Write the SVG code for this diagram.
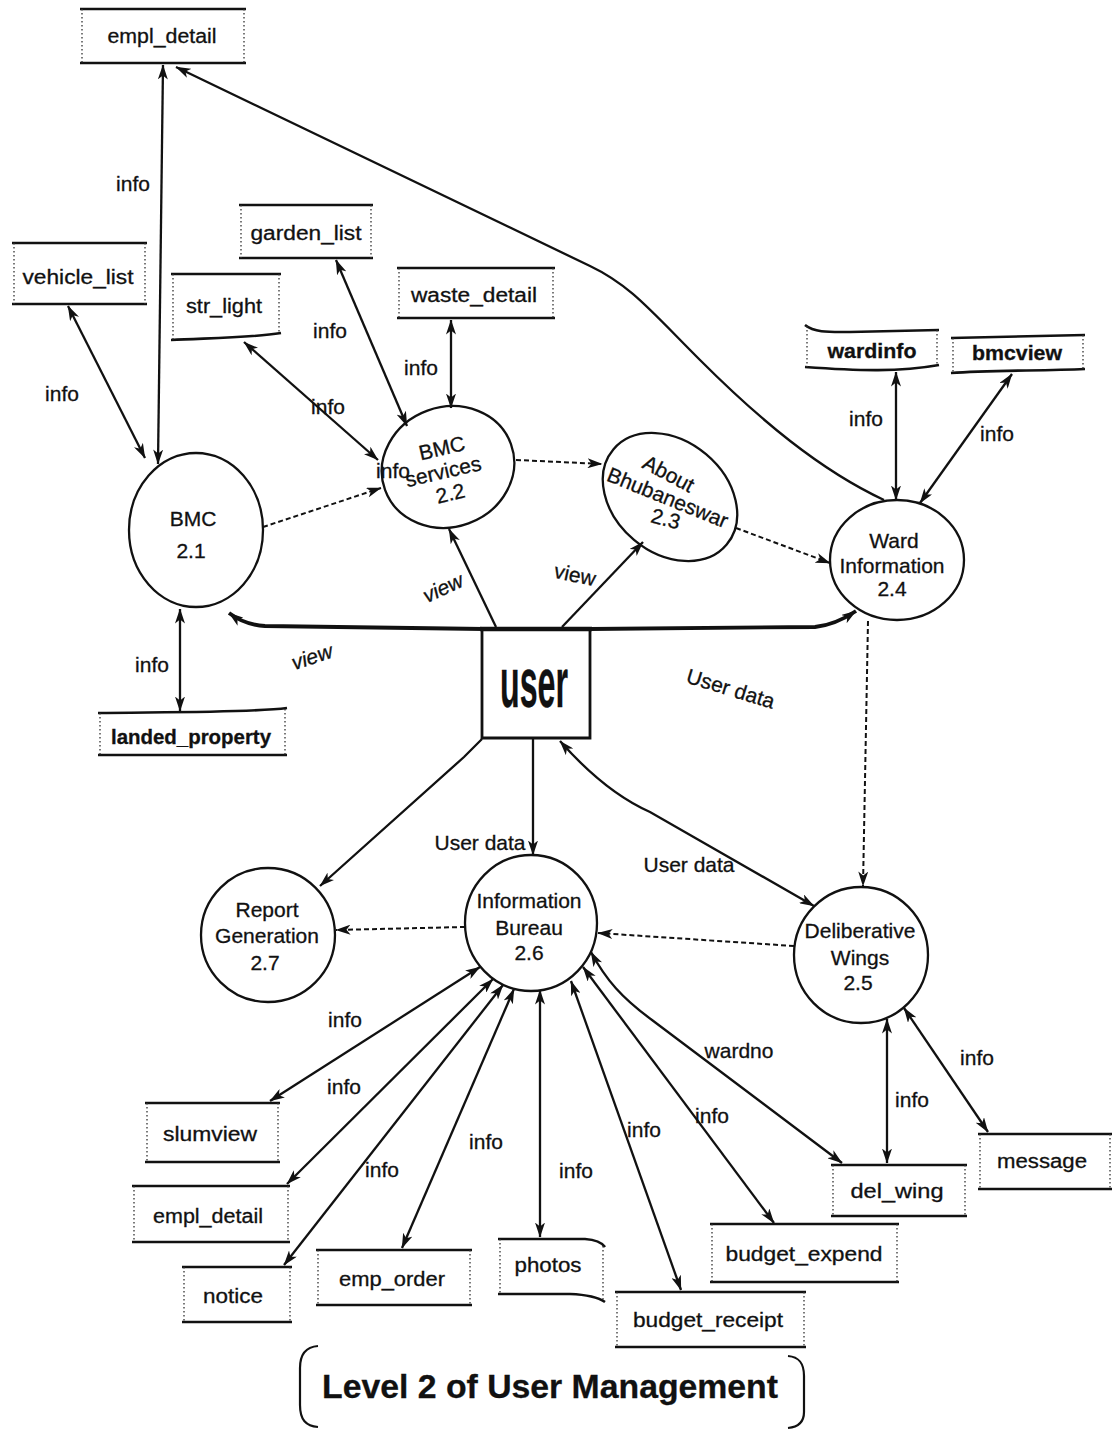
<svg xmlns="http://www.w3.org/2000/svg" width="1116" height="1431" viewBox="0 0 1116 1431">
<style>
.edge{stroke:#111;stroke-width:2.6;fill:none}
.side{stroke:#333;stroke-width:1.3;stroke-dasharray:1.5 2.5;fill:none}
.proc{fill:none;stroke:#111;stroke-width:2.3}
.flow{stroke:#111;stroke-width:2.3;fill:none}
.thick{stroke:#111;stroke-width:3.8;fill:none}
.dash{stroke:#111;stroke-width:2;stroke-dasharray:5 3;fill:none}
text{font-family:"Liberation Sans",Arial,sans-serif;fill:#111;stroke:#111;stroke-width:0.3}
.sl{font-size:20px;text-anchor:middle}
.pl{font-size:21px;text-anchor:middle}
.fl{font-size:21px;text-anchor:middle}
</style>
<defs>
<marker id="ah" viewBox="0 0 15 10" refX="14.5" refY="5" markerWidth="15" markerHeight="10" markerUnits="userSpaceOnUse" orient="auto-start-reverse">
<path d="M0,0 L15,5 L0,10 L4,5 Z" fill="#111"/>
</marker>
</defs>
<rect width="1116" height="1431" fill="#fff"/>

<g id="connectors">
<!-- top -->
<line class="flow" x1="163" y1="65" x2="158" y2="464" marker-start="url(#ah)" marker-end="url(#ah)"/>
<line class="flow" x1="68" y1="306" x2="145" y2="458" marker-start="url(#ah)" marker-end="url(#ah)"/>
<line class="flow" x1="244" y1="342" x2="378" y2="460" marker-start="url(#ah)" marker-end="url(#ah)"/>
<line class="flow" x1="336" y1="260" x2="407" y2="426" marker-start="url(#ah)" marker-end="url(#ah)"/>
<line class="flow" x1="451" y1="320" x2="451" y2="408" marker-start="url(#ah)" marker-end="url(#ah)"/>
<line class="flow" x1="180" y1="609" x2="180" y2="711" marker-start="url(#ah)" marker-end="url(#ah)"/>
<path class="dash" d="M263,527 L381,488" marker-end="url(#ah)"/>
<path class="dash" d="M516,460 L602,464" marker-end="url(#ah)"/>
<path class="dash" d="M736,528 L830,563" marker-end="url(#ah)"/>
<path class="flow" d="M884,500 C820,470 760,420 700,360 C650,310 630,285 590,266 L176,67" marker-end="url(#ah)"/>
<line class="flow" x1="896" y1="372" x2="896" y2="500" marker-start="url(#ah)" marker-end="url(#ah)"/>
<line class="flow" x1="1012" y1="374" x2="920" y2="503" marker-start="url(#ah)" marker-end="url(#ah)"/>
<!-- user -->
<path class="thick" d="M484,629 L265,626 Q245,625 229,613" marker-end="url(#ah)"/>
<path class="thick" d="M590,629 L815,627 Q835,625 856,611" marker-end="url(#ah)"/>
<line class="flow" x1="496" y1="627" x2="449" y2="529" marker-end="url(#ah)"/>
<line class="flow" x1="562" y1="627" x2="643" y2="542" marker-end="url(#ah)"/>
<path class="flow" d="M482,739 L464,757 L320,886" marker-end="url(#ah)"/>
<line class="flow" x1="533" y1="738" x2="533" y2="855" marker-end="url(#ah)"/>
<path class="flow" d="M560,741 Q605,792 650,812 L814,906" marker-start="url(#ah)" marker-end="url(#ah)"/>
<path class="dash" d="M868,621 L863,886" marker-end="url(#ah)"/>
<path class="dash" d="M465,927 L336,930" marker-end="url(#ah)"/>
<path class="dash" d="M794,946 L598,933" marker-end="url(#ah)"/>
<!-- bottom -->
<line class="flow" x1="480" y1="967" x2="270" y2="1101" marker-start="url(#ah)" marker-end="url(#ah)"/>
<line class="flow" x1="493" y1="979" x2="287" y2="1184" marker-start="url(#ah)" marker-end="url(#ah)"/>
<line class="flow" x1="503" y1="985" x2="284" y2="1265" marker-start="url(#ah)" marker-end="url(#ah)"/>
<line class="flow" x1="514" y1="989" x2="402" y2="1248" marker-start="url(#ah)" marker-end="url(#ah)"/>
<line class="flow" x1="540" y1="990" x2="540" y2="1237" marker-start="url(#ah)" marker-end="url(#ah)"/>
<line class="flow" x1="571" y1="981" x2="681" y2="1290" marker-start="url(#ah)" marker-end="url(#ah)"/>
<line class="flow" x1="583" y1="967" x2="774" y2="1223" marker-start="url(#ah)" marker-end="url(#ah)"/>
<path class="flow" d="M591,952 C606,980 622,998 652,1020 L842,1163" marker-start="url(#ah)" marker-end="url(#ah)"/>
<line class="flow" x1="887" y1="1019" x2="887" y2="1163" marker-start="url(#ah)" marker-end="url(#ah)"/>
<line class="flow" x1="904" y1="1008" x2="988" y2="1132" marker-start="url(#ah)" marker-end="url(#ah)"/>
</g>

<g id="labels">
<text class="fl" x="133" y="191">info</text>
<text class="fl" x="330" y="338">info</text>
<text class="fl" x="421" y="375">info</text>
<text class="fl" x="328" y="414">info</text>
<text class="fl" x="62" y="401">info</text>
<text class="fl" x="393" y="478">info</text>
<text class="fl" x="866" y="426">info</text>
<text class="fl" x="997" y="441">info</text>
<text class="fl" x="152" y="672" font-size="19">info</text>
<text class="fl" x="312" y="664" font-style="italic" transform="rotate(-18 312 657)">view</text>
<text class="fl" x="443" y="595" font-style="italic" transform="rotate(-25 443 588)">view</text>
<text class="fl" x="575" y="582" transform="rotate(12 575 575)">view</text>
<text class="fl" x="731" y="696" font-size="23" transform="rotate(17 731 688)">User data</text>
<text class="fl" x="480" y="850">User data</text>
<text class="fl" x="689" y="872">User data</text>
<text class="fl" x="345" y="1027">info</text>
<text class="fl" x="344" y="1094">info</text>
<text class="fl" x="382" y="1177">info</text>
<text class="fl" x="486" y="1149">info</text>
<text class="fl" x="576" y="1178">info</text>
<text class="fl" x="644" y="1137">info</text>
<text class="fl" x="712" y="1123">info</text>
<text class="fl" x="739" y="1058">wardno</text>
<text class="fl" x="912" y="1107">info</text>
<text class="fl" x="977" y="1065">info</text>
</g>

<!-- data stores -->
<g id="s-empl-detail-top"><path class="edge" d="M80,9 H246 M80,63 H246"/><path class="side" d="M82,9 V63 M244,9 V63"/><text class="sl" x="162" y="43" textLength="109" lengthAdjust="spacingAndGlyphs">empl_detail</text></g>
<g id="s-vehicle-list"><path class="edge" d="M12,243 H147 M12,304 H147"/><path class="side" d="M14,243 V304 M145,243 V304"/><text class="sl" x="78" y="284" textLength="111" lengthAdjust="spacingAndGlyphs">vehicle_list</text></g>
<g id="s-garden-list"><path class="edge" d="M239,205 H373 M239,258 H373"/><path class="side" d="M241,205 V258 M371,205 V258"/><text class="sl" x="306" y="240" textLength="111" lengthAdjust="spacingAndGlyphs">garden_list</text></g>
<g id="s-str-light"><path class="edge" d="M171,274 H281 M171,340 C210,338 250,338 281,333"/><path class="side" d="M173,274 V340 M279,274 V334"/><text class="sl" x="224" y="313" textLength="76" lengthAdjust="spacingAndGlyphs">str_light</text></g>
<g id="s-waste-detail"><path class="edge" d="M397,268 H555 M397,318 H555"/><path class="side" d="M399,268 V318 M553,268 V318"/><text class="sl" x="474" y="302" textLength="126" lengthAdjust="spacingAndGlyphs">waste_detail</text></g>
<g id="s-wardinfo"><path class="edge" d="M805,325 C815,333 830,332 850,332 L939,330 M805,367 C860,371 900,372 939,365"/><path class="side" d="M807,326 V367 M937,330 V366"/><text class="sl" x="872" y="358" font-size="17" font-weight="bold" textLength="89" lengthAdjust="spacingAndGlyphs">wardinfo</text></g>
<g id="s-bmcview"><path class="edge" d="M951,338 L1085,335 M951,373 C990,370 1040,371 1085,369"/><path class="side" d="M953,338 V373 M1083,335 V369"/><text class="sl" x="1017" y="360" font-size="17" font-weight="bold" textLength="90" lengthAdjust="spacingAndGlyphs">bmcview</text></g>
<g id="s-landed-property"><path class="edge" d="M98,713 C150,712 250,713 287,708 M98,755 H287"/><path class="side" d="M100,713 V755 M285,709 V755"/><text class="sl" x="191" y="744" font-weight="bold" textLength="160" lengthAdjust="spacingAndGlyphs">landed_property</text></g>
<g id="s-slumview"><path class="edge" d="M145,1103 H280 M145,1162 H280"/><path class="side" d="M147,1103 V1162 M278,1103 V1162"/><text class="sl" x="210" y="1141" textLength="94" lengthAdjust="spacingAndGlyphs">slumview</text></g>
<g id="s-empl-detail-bottom"><path class="edge" d="M132,1186 H290 M132,1242 H290"/><path class="side" d="M134,1186 V1242 M288,1186 V1242"/><text class="sl" x="208" y="1223" textLength="110" lengthAdjust="spacingAndGlyphs">empl_detail</text></g>
<g id="s-notice"><path class="edge" d="M182,1267 H292 M182,1322 H292"/><path class="side" d="M184,1267 V1322 M290,1267 V1322"/><text class="sl" x="233" y="1303" textLength="60" lengthAdjust="spacingAndGlyphs">notice</text></g>
<g id="s-emp-order"><path class="edge" d="M316,1250 H472 M316,1305 H472"/><path class="side" d="M318,1250 V1305 M470,1250 V1305"/><text class="sl" x="392" y="1286" textLength="106" lengthAdjust="spacingAndGlyphs">emp_order</text></g>
<g id="s-photos"><path class="edge" d="M498,1239 L585,1239 Q600,1240 605,1247 M498,1294 L570,1294 Q595,1295 605,1302"/><path class="side" d="M500,1239 V1294 M603,1246 V1301"/><text class="sl" x="548" y="1272" textLength="67" lengthAdjust="spacingAndGlyphs">photos</text></g>
<g id="s-budget-receipt"><path class="edge" d="M615,1292 H806 M615,1347 H806"/><path class="side" d="M617,1292 V1347 M804,1292 V1347"/><text class="sl" x="708" y="1327" textLength="150" lengthAdjust="spacingAndGlyphs">budget_receipt</text></g>
<g id="s-budget-expend"><path class="edge" d="M710,1224 H899 M710,1282 H899"/><path class="side" d="M712,1224 V1282 M897,1224 V1282"/><text class="sl" x="804" y="1261" textLength="157" lengthAdjust="spacingAndGlyphs">budget_expend</text></g>
<g id="s-del-wing"><path class="edge" d="M831,1165 H967 M831,1216 H967"/><path class="side" d="M833,1165 V1216 M965,1165 V1216"/><text class="sl" x="897" y="1198" textLength="93" lengthAdjust="spacingAndGlyphs">del_wing</text></g>
<g id="s-message"><path class="edge" d="M978,1134 H1112 M978,1189 H1112"/><path class="side" d="M980,1134 V1189 M1110,1134 V1189"/><text class="sl" x="1042" y="1168" textLength="90" lengthAdjust="spacingAndGlyphs">message</text></g>

<!-- processes -->
<g id="p-bmc"><ellipse class="proc" cx="196" cy="530" rx="67" ry="77"/><text class="pl" x="193" y="526">BMC</text><text class="pl" x="191" y="558">2.1</text></g>
<g id="p-bmc-services"><ellipse class="proc" cx="448" cy="467" rx="67" ry="60" transform="rotate(-20 448 467)"/><g transform="rotate(-13 446 470)"><text class="pl" x="447" y="455">BMC</text><text class="pl" x="443" y="478">services</text><text class="pl" x="445" y="501">2.2</text></g></g>
<g id="p-about"><ellipse class="proc" cx="670" cy="497" rx="74" ry="56" transform="rotate(40 670 497)"/><text class="pl" x="669" y="481" transform="rotate(28 669 473)">About</text><text class="pl" x="668" y="505" transform="rotate(22 668 497)">Bhubaneswar</text><text class="pl" x="666" y="526" transform="rotate(15 666 518)">2.3</text></g>
<g id="p-ward"><ellipse class="proc" cx="897" cy="560" rx="67" ry="60"/><text class="pl" x="894" y="548">Ward</text><text class="pl" x="892" y="573">Information</text><text class="pl" x="892" y="596">2.4</text></g>
<g id="p-deliberative"><ellipse class="proc" cx="861" cy="955" rx="67" ry="68"/><text class="pl" x="860" y="938">Deliberative</text><text class="pl" x="860" y="965">Wings</text><text class="pl" x="858" y="990">2.5</text></g>
<g id="p-info-bureau"><ellipse class="proc" cx="531" cy="923" rx="66" ry="68"/><text class="pl" x="529" y="908">Information</text><text class="pl" x="529" y="935">Bureau</text><text class="pl" x="529" y="960">2.6</text></g>
<g id="p-report"><ellipse class="proc" cx="268" cy="935" rx="67" ry="67"/><text class="pl" x="267" y="917">Report</text><text class="pl" x="267" y="943">Generation</text><text class="pl" x="265" y="970">2.7</text></g>

<g id="e-user"><path d="M482,627 V738 H590 V627" fill="none" stroke="#111" stroke-width="2.8"/><path d="M480,629 H592" stroke="#111" stroke-width="4.5"/><text x="534" y="707" font-size="71" font-weight="bold" text-anchor="middle" stroke-width="1.2" textLength="68" lengthAdjust="spacingAndGlyphs">user</text></g>

<g id="title"><path d="M318,1346 C305,1347 300,1355 300,1368 L300,1405 C300,1420 306,1426 318,1427" fill="none" stroke="#111" stroke-width="2.2"/><path d="M788,1356 C800,1357 804,1364 804,1376 L804,1412 C804,1422 799,1427 788,1428" fill="none" stroke="#111" stroke-width="2.2"/><text x="322" y="1398" font-size="33" font-weight="bold" textLength="456" lengthAdjust="spacingAndGlyphs">Level 2 of User Management</text></g>
</svg>
